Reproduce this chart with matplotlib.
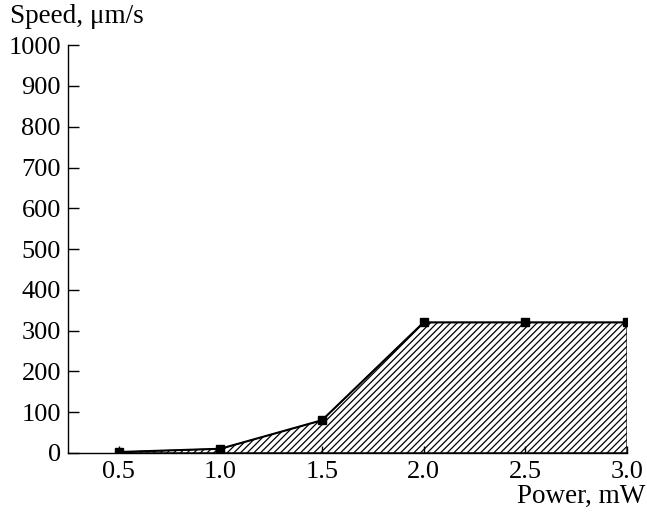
import matplotlib
matplotlib.use("Agg")
import matplotlib.pyplot as plt

# data
power = [0.5, 1.0, 1.5, 2.0, 2.5, 3.0]
speed = [2, 10, 80, 320, 320, 320]
xticks = [0.5, 1.0, 1.5, 2.0, 2.5, 3.0]
yticks = [0, 100, 200, 300, 400, 500, 600, 700, 800, 900, 1000]

plt.rcParams['font.family'] = ['Liberation Serif', 'DejaVu Serif']
plt.rcParams['hatch.linewidth'] = 0.9

fig = plt.figure(figsize=(6.47, 5.14), dpi=100)
ax = fig.add_axes([0.105, 0.119, 0.864, 0.793])

ax.fill_between(power, speed, 0, facecolor='white', edgecolor='black',
                hatch='/////', linewidth=0.8)
ax.plot(power, speed, color='black', linewidth=1.5, marker='s', markersize=6)

ax.set_xlim(0.25, 3.0)
ax.set_ylim(0, 1000)
ax.set_xticks(xticks)
ax.set_xticklabels([f"{v:.1f}" for v in xticks])
ax.set_yticks(yticks)

ax.spines['top'].set_visible(False)
ax.spines['right'].set_visible(False)
for s in ['left', 'bottom']:
    ax.spines[s].set_linewidth(1.0)
ax.tick_params(axis='both', direction='in', length=8, width=1.0, labelsize=19, pad=5)
ax.tick_params(axis='x', length=5, pad=6)

fig.text(0.015, 0.968, "Speed, μm/s", fontsize=19.5, ha='left', va='center')
fig.text(0.998, 0.035, "Power, mW", fontsize=19.5, ha='right', va='center')

fig.savefig("out.png", dpi=100)
